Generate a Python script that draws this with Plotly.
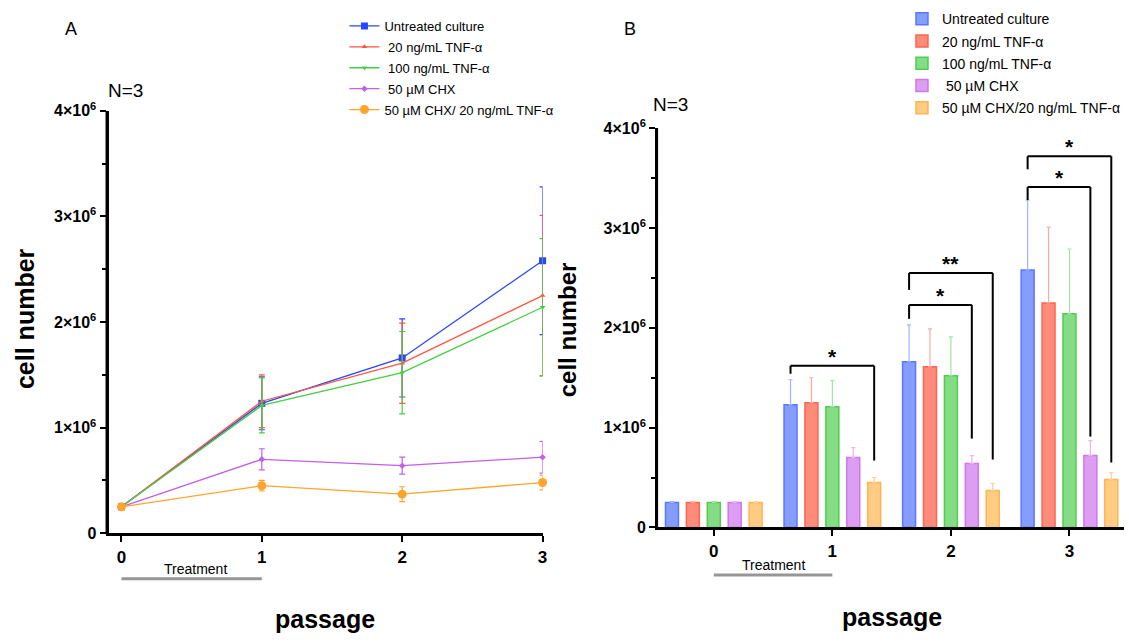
import plotly.graph_objects as go

# ---------------- data ----------------
passages = [0, 1, 2, 3]
bar_names = ["Untreated culture", "20 ng/mL TNF-α", "100 ng/mL TNF-α", " 50 µM CHX", "50 µM CHX/20 ng/mL TNF-α"]
legend_names_a = ["Untreated culture", " 20 ng/mL TNF-α", " 100 ng/mL TNF-α", " 50 µM CHX", "50 µM CHX/ 20 ng/mL TNF-α"]

untreated = [0.25e6, 1.23e6, 1.66e6, 2.58e6]
tnf20 = [0.25e6, 1.25e6, 1.61e6, 2.25e6]
tnf100 = [0.25e6, 1.21e6, 1.52e6, 2.14e6]
chx = [0.25e6, 0.70e6, 0.64e6, 0.72e6]
chx_tnf = [0.25e6, 0.45e6, 0.37e6, 0.48e6]

untreated_sd = [0.01e6, 0.25e6, 0.37e6, 0.70e6]
tnf20_sd = [0.01e6, 0.25e6, 0.38e6, 0.76e6]
tnf100_sd = [0.01e6, 0.26e6, 0.39e6, 0.65e6]
chx_sd = [0.01e6, 0.10e6, 0.08e6, 0.15e6]
chx_tnf_sd = [0.01e6, 0.05e6, 0.07e6, 0.07e6]

means = [untreated, tnf20, tnf100, chx, chx_tnf]
sds = [untreated_sd, tnf20_sd, tnf100_sd, chx_sd, chx_tnf_sd]

y_tickvals = [0, 1e6, 2e6, 3e6, 4e6]
y_ticktext = ["0", "1×10<sup>6</sup>", "2×10<sup>6</sup>", "3×10<sup>6</sup>", "4×10<sup>6</sup>"]
x_ticktext = ["0", "1", "2", "3"]

# significance brackets: (passage, bar index from, bar index to, top y, left end y, right end y, label)
brackets = [
    (1, 0, 4, 1.62e6, 1.54e6, 0.67e6, "*"),
    (2, 0, 3, 2.23e6, 2.09e6, 0.89e6, "*"),
    (2, 0, 4, 2.55e6, 2.38e6, 0.68e6, "**"),
    (3, 0, 3, 3.41e6, 3.28e6, 0.91e6, "*"),
    (3, 0, 4, 3.72e6, 3.59e6, 0.65e6, "*"),
]

# ---------------- styles ----------------
line_colors = ["rgb(40,70,255)", "rgb(255,85,65)", "rgb(70,205,70)", "rgb(195,95,235)", "rgb(255,165,45)"]
marker_symbols = ["square", "triangle-up", "triangle-down", "diamond", "circle"]
marker_sizes = [7, 5, 5, 5, 9]
bar_fill = ["rgba(110,140,255,0.85)", "rgba(255,120,100,0.85)", "rgba(110,215,110,0.85)",
            "rgba(215,140,240,0.85)", "rgba(255,195,110,0.85)"]
bar_line = ["rgb(90,120,255)", "rgb(255,100,80)", "rgb(80,205,80)", "rgb(205,120,235)", "rgb(255,180,80)"]
err_colors = ["rgb(160,180,255)", "rgb(255,170,160)", "rgb(160,230,160)", "rgb(230,180,245)", "rgb(255,205,150)"]

FONT = "Liberation Sans, Arial, Helvetica, sans-serif"
W, H = 1129, 643

fig = go.Figure()

# ---------------- Panel A: lines ----------------
for i in range(5):
    fig.add_trace(go.Scatter(
        x=passages, y=means[i], mode="lines+markers", name=legend_names_a[i],
        line=dict(color=line_colors[i], width=1.3),
        marker=dict(symbol=marker_symbols[i], size=marker_sizes[i], color=line_colors[i]),
        error_y=dict(type="data", array=sds[i], color=line_colors[i], thickness=1.2, width=3),
        xaxis="x", yaxis="y", legend="legend", legendgroup="a%d" % i, cliponaxis=False,
    ))

# ---------------- Panel B: bars ----------------
for i in range(5):
    fig.add_trace(go.Bar(
        x=passages, y=means[i], name=bar_names[i],
        marker=dict(color=bar_fill[i], line=dict(color=bar_line[i], width=1.5)),
        error_y=dict(type="data", symmetric=False, array=sds[i], arrayminus=[0] * len(passages),
                     color=err_colors[i], thickness=1.2, width=2),
        xaxis="x2", yaxis="y2", legend="legend2", legendgroup="b%d" % i,
    ))

bargap = 0.118
bargroupgap = 0.38
slot = (1 - bargap) / 5

def bar_x(p, k):
    return p + (k - 2) * slot

shapes = []
annotations = []
for (p, a, b, ytop, yl, yr, lab) in brackets:
    xa, xb = bar_x(p, a), bar_x(p, b)
    lw = dict(color="black", width=2)
    shapes.append(dict(type="line", xref="x2", yref="y2", x0=xa, x1=xb, y0=ytop, y1=ytop, line=lw))
    shapes.append(dict(type="line", xref="x2", yref="y2", x0=xa, x1=xa, y0=ytop, y1=yl, line=lw))
    shapes.append(dict(type="line", xref="x2", yref="y2", x0=xb, x1=xb, y0=ytop, y1=yr, line=lw))
    annotations.append(dict(text="<b>%s</b>" % lab, x=(xa + xb) / 2, y=ytop, xref="x2", yref="y2",
                            yanchor="bottom", showarrow=False, yshift=-4,
                            font=dict(family=FONT, size=21, color="black")))

# treatment bars
shapes.append(dict(type="line", xref="x", yref="paper", x0=0, x1=1, y0=1 - 586 / H, y1=1 - 586 / H,
                   line=dict(color="rgb(150,150,150)", width=3)))
shapes.append(dict(type="line", xref="x2", yref="paper", x0=0, x1=1, y0=1 - 582 / H, y1=1 - 582 / H,
                   line=dict(color="rgb(150,150,150)", width=3)))

# reinforce vertical axis lines (thick black spines)
AX_A_LEFT, AX_B_LEFT = 109, 661
for xpx, yref in ((AX_A_LEFT, "y"), (AX_B_LEFT, "y2")):
    shapes.append(dict(type="line", xref="paper", yref=yref, x0=(xpx - 1.5) / W, x1=(xpx - 1.5) / W,
                       y0=0, y1=4e6, line=dict(color="black", width=3), layer="above"))

def txt(text, x, y, size, bold=False, angle=0, xanchor="center"):
    annotations.append(dict(text=("<b>%s</b>" % text) if bold else text, x=x / W, y=1 - y / H,
                            xref="paper", yref="paper", showarrow=False, textangle=angle,
                            xanchor=xanchor, yanchor="middle",
                            font=dict(family=FONT, size=size, color="black")))

txt("Treatment", 196, 576, 14)
txt("Treatment", 777, 572, 14)
txt("A", 71, 19, 18)
txt("B", 633, 19, 18)
txt("N=3", 106, 82, 19, xanchor="left")
txt("N=3", 654, 97, 19, xanchor="left")
txt("cell number", 25, 317, 25, bold=True, angle=-90)
txt("cell number", 570, 329, 24, bold=True, angle=-90)
txt("passage", 326, 628, 25, bold=True)
txt("passage", 896, 625, 25, bold=True)

tickfont = dict(family=FONT, size=16, color="black")
common_y = dict(range=[0, 4e6], tickvals=y_tickvals, ticktext=["<b>%s</b>" % t for t in y_ticktext],
                tickfont=tickfont, showline=True, linecolor="black", linewidth=3, ticks="outside",
                ticklen=6, tickwidth=2, tickcolor="black", showgrid=False, zeroline=False,
                minor=dict(dtick=5e5, ticks="outside", ticklen=4, tickwidth=2, tickcolor="black", showgrid=False))
common_x = dict(tickvals=passages, ticktext=["<b>%s</b>" % t for t in x_ticktext],
                tickfont=dict(family=FONT, size=17, color="black"), showline=True, linecolor="black",
                linewidth=3, ticks="outside", ticklen=6, tickwidth=2, tickcolor="black",
                showgrid=False, zeroline=False)

fig.update_layout(
    width=W, height=H, margin=dict(l=0, r=0, t=0, b=0),
    paper_bgcolor="white", plot_bgcolor="white",
    barmode="group", bargap=bargap, bargroupgap=bargroupgap,
    xaxis=dict(domain=[AX_A_LEFT / W, 545 / W], range=[-0.092, 3.0], anchor="y", **common_x),
    yaxis=dict(domain=[1 - 539 / H, 1 - 103 / H], anchor="x", **common_y),
    xaxis2=dict(domain=[AX_B_LEFT / W, 1.0], range=[-0.47, 3.46], anchor="y2", **common_x),
    yaxis2=dict(domain=[1 - 533 / H, 1 - 121 / H], anchor="x2", **common_y),
    legend=dict(x=346 / W, y=1.0, xanchor="left", yanchor="top", bgcolor="rgba(0,0,0,0)",
                font=dict(family=FONT, size=13, color="black"), tracegroupgap=1, itemwidth=30),
    legend2=dict(x=906 / W, y=1.0 + 8 / H, xanchor="left", yanchor="top", bgcolor="rgba(0,0,0,0)",
                 font=dict(family=FONT, size=14, color="black"), tracegroupgap=1),
    shapes=shapes, annotations=annotations,
    showlegend=True,
)

fig.write_html("out.html")
